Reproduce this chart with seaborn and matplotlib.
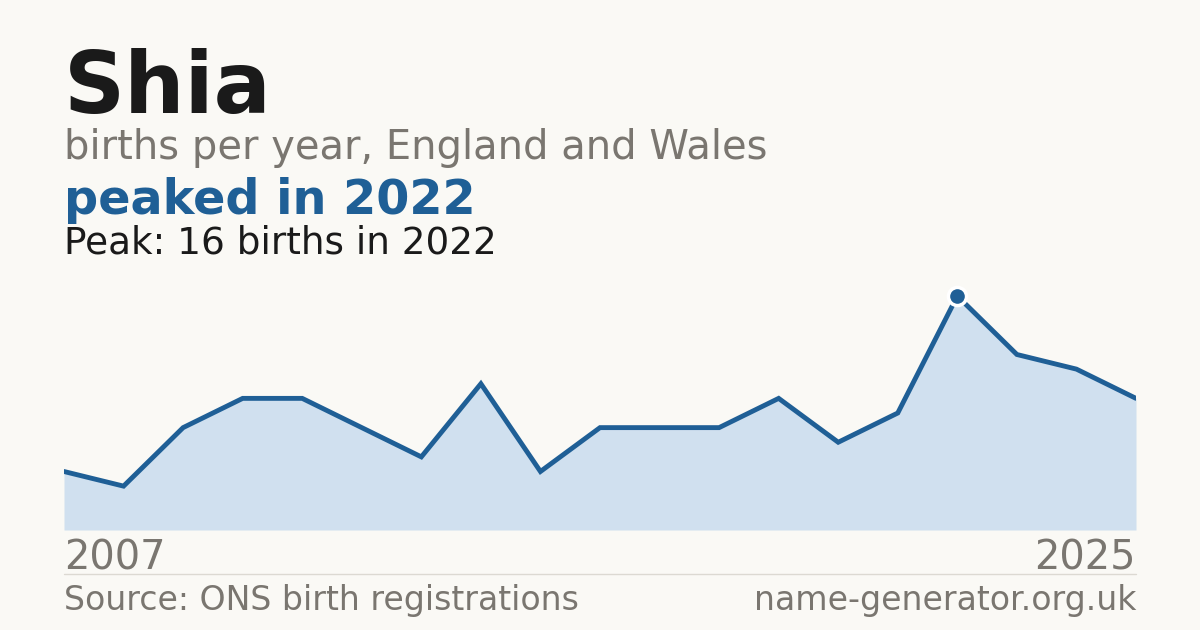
import matplotlib
matplotlib.use("Agg")
import matplotlib.pyplot as plt
import seaborn as sns
import pandas as pd

# data
years = list(range(2007, 2026))
births = [4, 3, 7, 9, 9, 7, 5, 10, 4, 7, 7, 7, 9, 6, 8, 16, 12, 11, 9]

name = "Shia"
subtitle = "births per year, England and Wales"
headline = "peaked in 2022"
peak_note = "Peak: 16 births in 2022"
source = "Source: ONS birth registrations"
site = "name-generator.org.uk"

BG = "#faf9f5"
BLUE = "#1f5f96"
FILL = "#d0e0ef"
GREY = "#7a7670"
DARK = "#1a1a1a"

sns.set_theme(style="white")
plt.rcParams['font.family'] = ['DejaVu Sans']

W, H = 1200, 630
fig = plt.figure(figsize=(12, 6.3), dpi=100)
fig.patch.set_facecolor(BG)

def fx(px):
    return px / W

def fy(py):
    return 1 - py / H

# plot area
ax = fig.add_axes([fx(64), fy(530), fx(1136 - 64), (530 - 296) / H])
ax.set_facecolor(BG)
df = pd.DataFrame({'year': years, 'births': births})

ax.fill_between(df['year'], df['births'], 0, color=FILL, lw=0)
sns.lineplot(data=df, x='year', y='births', ax=ax, color=BLUE, lw=3.5,
             solid_joinstyle='miter')

peak_i = df['births'].idxmax()
ax.scatter([df['year'][peak_i]], [df['births'][peak_i]], s=170, color=BLUE,
           edgecolor='white', linewidth=2.5, zorder=5, clip_on=False)

ax.set_xlim(years[0], years[-1])
ax.set_ylim(0, max(births))
ax.axis('off')

# header text
fig.text(fx(64), fy(113), name, fontsize=61, fontweight='bold', color=DARK, va='baseline')
fig.text(fx(64), fy(159), subtitle, fontsize=28.8, color=GREY, va='baseline')
fig.text(fx(64), fy(214), headline, fontsize=34.4, fontweight='bold', color=BLUE, va='baseline')
fig.text(fx(64), fy(253), peak_note, fontsize=26.9, color=DARK, va='baseline')

# x end labels
fig.text(fx(64), fy(570), str(years[0]), fontsize=28.7, color=GREY, va='baseline')
fig.text(fx(1136), fy(570), str(years[-1]), fontsize=28.7, color=GREY, va='baseline', ha='right')

# divider and footer
fig.add_artist(plt.Line2D([fx(64), fx(1136)], [fy(574), fy(574)], color='#dcd9d2', lw=1))
fig.text(fx(64), fy(610), source, fontsize=23.9, color=GREY, va='baseline')
fig.text(fx(1136), fy(610), site, fontsize=23.9, color=GREY, va='baseline', ha='right')

fig.savefig("out.png", dpi=100, facecolor=BG)
